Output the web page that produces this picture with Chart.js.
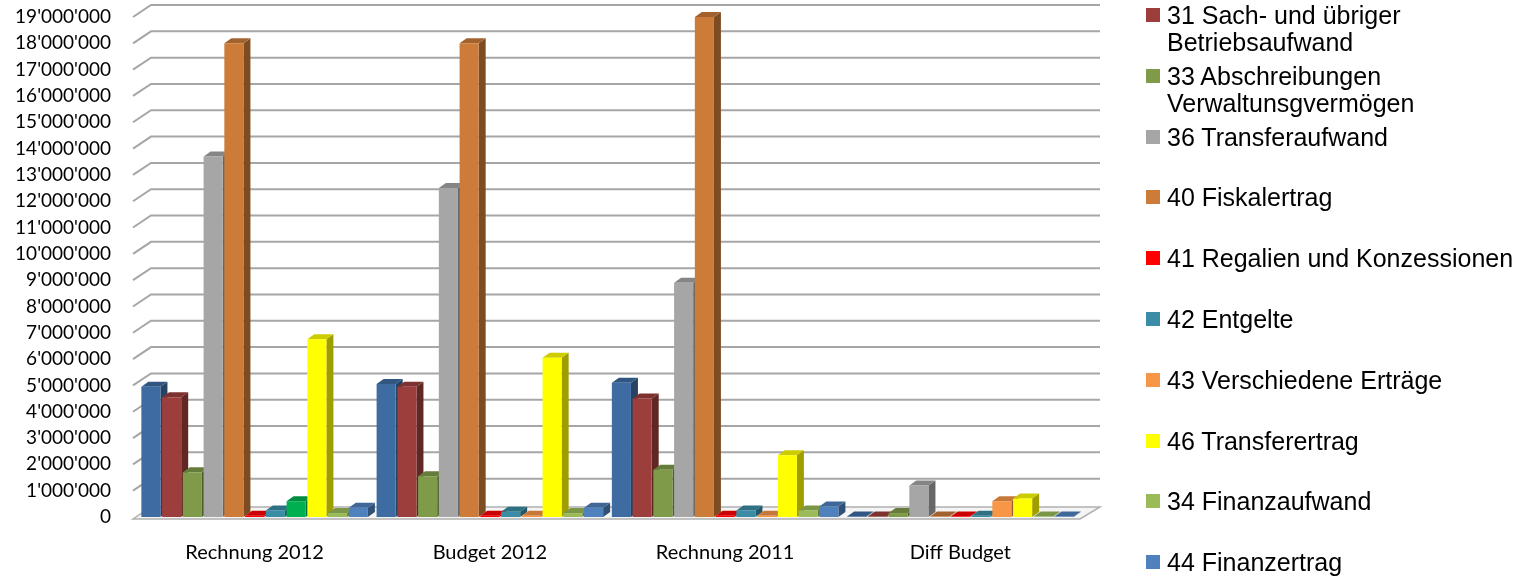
<!DOCTYPE html>
<html>
<head>
<meta charset="utf-8">
<script src="https://cdn.jsdelivr.net/npm/chart.js"></script>
<style>
  body { margin: 0; background: #fff; }
  #wrap { position: relative; width: 1524px; height: 581px; }
  #legend { position: absolute; left: 1146px; top: 0; font-family: "Liberation Sans", Arial, sans-serif; font-size: 25px; line-height: 27px; color: #000; }
  .item { position: absolute; left: 0; white-space: nowrap; }
  .sw { position: absolute; left: 0; top: 6px; width: 14px; height: 14px; }
  .txt { position: absolute; left: 21px; top: 0; }
</style>
</head>
<body>
<div id="wrap">
  <canvas id="chart"></canvas>
  <div id="legend"></div>
</div>
<script>
const categories = ['Rechnung 2012', 'Budget 2012', 'Rechnung 2011', 'Diff Budget'];

const seriesNames = [
  '30 Personalaufwand',
  '31 Sach- und übriger Betriebsaufwand',
  '33 Abschreibungen Verwaltunsgvermögen',
  '36 Transferaufwand',
  '40 Fiskalertrag',
  '41 Regalien und Konzessionen',
  '42 Entgelte',
  '43 Verschiedene Erträge',
  '46 Transferertrag',
  '34 Finanzaufwand',
  '44 Finanzertrag'
];

// legend text as it wraps in the picture
const legendLines = [
  null,
  ['31 Sach- und übriger', 'Betriebsaufwand'],
  ['33 Abschreibungen', 'Verwaltunsgvermögen'],
  ['36 Transferaufwand'],
  ['40 Fiskalertrag'],
  ['41 Regalien und Konzessionen'],
  ['42 Entgelte'],
  ['43 Verschiedene Erträge'],
  ['46 Transferertrag'],
  ['34 Finanzaufwand'],
  ['44 Finanzertrag']
];

const seriesColors = ['#3E6BA2', '#9C3F3C', '#7F9B49', '#A6A6A6', '#CC7B38', '#FF0000',
  '#3B8DA5', '#F79646', '#FFFF00', '#9BBB59', '#4F81BD'];

const personal = [4950000, 5050000, 5100000, 20000];
const sachaufwand = [4550000, 4950000, 4500000, 20000];
const abschreibungen = [1700000, 1550000, 1800000, 150000];
const transferaufwand = [13700000, 12500000, 8900000, 1200000];
const fiskalertrag = [18000000, 18000000, 19000000, 20000];
const regalien = [50000, 50000, 50000, 20000];
const entgelte = [250000, 200000, 250000, 50000];
const verschiedene = [600000, 50000, 50000, 600000];
const transferertrag = [6750000, 6050000, 2350000, 700000];
const finanzaufwand = [150000, 150000, 250000, 20000];
const finanzertrag = [350000, 350000, 400000, 20000];

const seriesValues = [personal, sachaufwand, abschreibungen, transferaufwand, fiskalertrag,
  regalien, entgelte, verschiedene, transferertrag, finanzaufwand, finanzertrag];

const yMax = 19000000;
const yStep = 1000000;

function shade(hex, f) {
  const n = parseInt(hex.slice(1), 16);
  const r = Math.round(((n >> 16) & 255) * f);
  const g = Math.round(((n >> 8) & 255) * f);
  const b = Math.round((n & 255) * f);
  return `rgb(${r},${g},${b})`;
}

function fmt(v) {
  return String(v).replace(/\B(?=(\d{3})+(?!\d))/g, "'");
}

const DX = 7, DY = -5;

const bar3d = {
  id: 'bar3d',
  beforeDatasetsDraw(chart) {
    const ctx = chart.ctx;
    const area = chart.chartArea;
    const y = chart.scales.y;
    ctx.save();
    // back wall grid lines with the little diagonals
    ctx.strokeStyle = '#A6A6A6';
    ctx.lineWidth = 2;
    for (let v = yStep; v <= yMax; v += yStep) {
      const py = y.getPixelForValue(v);
      ctx.beginPath();
      ctx.moveTo(area.left - 4, py);
      ctx.lineTo(area.left + 14, py - 12);
      ctx.lineTo(area.right + 22, py - 12);
      ctx.stroke();
    }
    // floor
    const p0 = y.getPixelForValue(0);
    ctx.beginPath();
    ctx.moveTo(area.left - 4, p0 + 2);
    ctx.lineTo(area.right + 2, p0 + 2);
    ctx.lineTo(area.right + 22, p0 - 10);
    ctx.lineTo(area.left + 14, p0 - 10);
    ctx.closePath();
    ctx.fillStyle = '#F4F4F4';
    ctx.fill();
    ctx.strokeStyle = '#B0B0B0';
    ctx.lineWidth = 1.5;
    ctx.stroke();

    // side and top faces, left to right so nearer bars cover them
    const els = [];
    chart.data.datasets.forEach((ds, i) => {
      chart.getDatasetMeta(i).data.forEach(el => els.push(el));
    });
    els.sort((a, b) => a.x - b.x);
    els.forEach(el => {
      const w = el.width, l = el.x - w / 2, r = el.x + w / 2;
      const top = el.y, base = el.base;
      const col = el.options.backgroundColor;
      ctx.fillStyle = shade(col, 0.62);
      ctx.beginPath();
      ctx.moveTo(r, top);
      ctx.lineTo(r + DX, top + DY);
      ctx.lineTo(r + DX, base + DY);
      ctx.lineTo(r, base);
      ctx.closePath();
      ctx.fill();
      ctx.fillStyle = shade(col, 0.8);
      ctx.beginPath();
      ctx.moveTo(l, top);
      ctx.lineTo(l + DX, top + DY);
      ctx.lineTo(r + DX, top + DY);
      ctx.lineTo(r, top);
      ctx.closePath();
      ctx.fill();
    });
    ctx.restore();
  }
};

const datasets = seriesNames.map((name, i) => {
  let bg = seriesColors[i];
  if (name.startsWith('43')) {
    // first point of this series is coloured green in the picture
    bg = seriesValues[i].map((v, j) => j === 0 ? '#00B050' : seriesColors[i]);
  }
  return {
    label: name,
    data: seriesValues[i],
    backgroundColor: bg,
    borderWidth: 0,
    categoryPercentage: 0.97,
    barPercentage: 0.92
  };
});

new Chart(document.getElementById('chart'), {
  type: 'bar',
  data: { labels: categories, datasets: datasets },
  options: {
    responsive: true,
    maintainAspectRatio: false,
    animation: false,
    layout: { padding: { top: 17, right: 446, bottom: 0, left: 0 } },
    plugins: { legend: { display: false }, tooltip: { enabled: false } },
    scales: {
      x: {
        grid: { display: false },
        border: { display: false },
        afterFit(scale) { scale.height = 64; },
        ticks: { padding: 16, color: '#000', font: { family: 'Lato', size: 20 } }
      },
      y: {
        min: 0,
        max: yMax,
        grid: { display: false, drawTicks: false },
        border: { display: false },
        afterFit(scale) {
          scale.width = 137;
          scale.paddingTop = 0;
          scale.paddingBottom = 0;
        },
        ticks: {
          stepSize: yStep,
          autoSkip: false,
          padding: 26,
          color: '#000',
          font: { family: 'Lato', size: 19 },
          callback: v => fmt(v)
        }
      }
    }
  },
  plugins: [bar3d]
});

// legend on the right
const legend = document.getElementById('legend');
legendLines.forEach((lines, i) => {
  if (!lines) return;
  const item = document.createElement('div');
  item.className = 'item';
  item.style.top = (2 + (i - 1) * 60.8) + 'px';
  const sw = document.createElement('div');
  sw.className = 'sw';
  sw.style.background = seriesColors[i];
  const txt = document.createElement('div');
  txt.className = 'txt';
  txt.innerHTML = lines.join('<br>');
  item.appendChild(sw);
  item.appendChild(txt);
  legend.appendChild(item);
});
</script>
</body>
</html>
